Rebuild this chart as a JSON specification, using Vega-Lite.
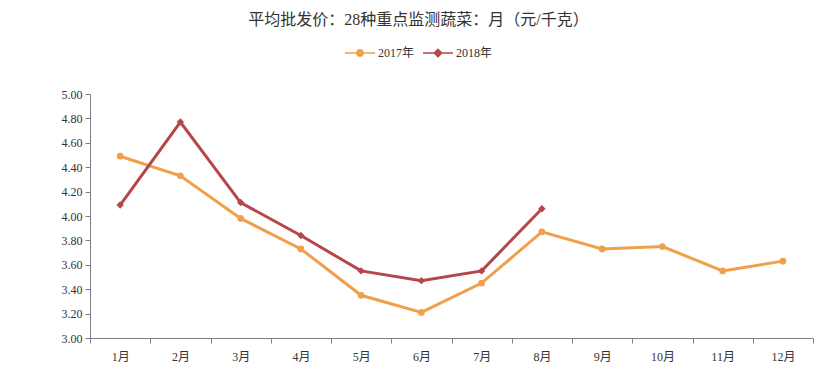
{
  "$schema": "https://vega.github.io/schema/vega-lite/v6.json",
  "width": 723,
  "height": 244,
  "autosize": "none",
  "padding": {"left": 90, "top": 94, "right": 27, "bottom": 50},
  "background": "white",
  "title": {
    "text": "平均批发价：28种重点监测蔬菜：月（元/千克）",
    "anchor": "middle",
    "frame": "group",
    "offset": 10,
    "dx": -33,
    "fontSize": 16,
    "font": "Liberation Serif, Noto Sans CJK SC",
    "fontWeight": "normal",
    "color": "#333333"
  },
  "config": {
    "view": {"stroke": null},
    "font": "Liberation Serif, Noto Sans CJK SC"
  },
  "data": {
    "values": [
      {"month": "1月", "year": "2017年", "price": 4.49},
      {"month": "2月", "year": "2017年", "price": 4.33},
      {"month": "3月", "year": "2017年", "price": 3.98},
      {"month": "4月", "year": "2017年", "price": 3.73},
      {"month": "5月", "year": "2017年", "price": 3.35},
      {"month": "6月", "year": "2017年", "price": 3.21},
      {"month": "7月", "year": "2017年", "price": 3.45},
      {"month": "8月", "year": "2017年", "price": 3.87},
      {"month": "9月", "year": "2017年", "price": 3.73},
      {"month": "10月", "year": "2017年", "price": 3.75},
      {"month": "11月", "year": "2017年", "price": 3.55},
      {"month": "12月", "year": "2017年", "price": 3.63},
      {"month": "1月", "year": "2018年", "price": 4.09},
      {"month": "2月", "year": "2018年", "price": 4.77},
      {"month": "3月", "year": "2018年", "price": 4.11},
      {"month": "4月", "year": "2018年", "price": 3.84},
      {"month": "5月", "year": "2018年", "price": 3.55},
      {"month": "6月", "year": "2018年", "price": 3.47},
      {"month": "7月", "year": "2018年", "price": 3.55},
      {"month": "8月", "year": "2018年", "price": 4.06}
    ]
  },
  "encoding": {
    "x": {
      "field": "month",
      "type": "ordinal",
      "sort": ["1月","2月","3月","4月","5月","6月","7月","8月","9月","10月","11月","12月"],
      "scale": {"type": "band", "paddingInner": 0, "paddingOuter": 0},
      "axis": {
        "title": null,
        "labelAngle": 0,
        "tickBand": "extent",
        "domainColor": "#808080",
        "tickColor": "#808080",
        "tickSize": 5,
        "labelPadding": 8,
        "labelFontSize": 12,
        "labelColor": "#333333",
        "grid": false
      }
    },
    "y": {
      "field": "price",
      "type": "quantitative",
      "scale": {"domain": [3, 5], "zero": false, "nice": false},
      "axis": {
        "title": null,
        "values": [3.0, 3.2, 3.4, 3.6, 3.8, 4.0, 4.2, 4.4, 4.6, 4.8, 5.0],
        "format": ".2f",
        "grid": false,
        "domainColor": "#808080",
        "tickColor": "#808080",
        "tickSize": 5,
        "labelPadding": 3,
        "labelFontSize": 12,
        "labelColor": "#333333"
      }
    }
  },
  "layer": [
    {
      "mark": {"type": "line", "strokeWidth": 3},
      "encoding": {
        "color": {
          "field": "year",
          "type": "nominal",
          "scale": {"domain": ["2017年", "2018年"], "range": ["#F0A04B", "#B5474B"]},
          "legend": {
            "title": null,
            "orient": "none",
            "legendX": 255,
            "legendY": -56,
            "direction": "horizontal",
            "symbolSize": 900,
            "symbolType": "M-1,-0.055L1,-0.055L1,0.055L-1,0.055Z M-0.27,0A0.27,0.27 0 1,1 0.27,0A0.27,0.27 0 1,1 -0.27,0Z",
            "labelFontSize": 12,
            "labelColor": "#333333",
            "labelOffset": 3,
            "columnPadding": 8,
            "encode": {
              "symbols": {
                "update": {
                  "shape": {"signal": "datum.value === '2017年' ? 'M-1,-0.055L1,-0.055L1,0.055L-1,0.055Z M-0.27,0A0.27,0.27 0 1,1 0.27,0A0.27,0.27 0 1,1 -0.27,0Z' : 'M-1,-0.055L1,-0.055L1,0.055L-1,0.055Z M0,-0.32L0.32,0L0,0.32L-0.32,0Z'"},
                  "fill": {"scale": "color", "field": "value"},
                  "stroke": {"value": "transparent"},
                  "strokeWidth": {"value": 0},
                  "opacity": {"value": 1},
                  "fillOpacity": {"value": 1}
                }
              }
            }
          }
        }
      }
    },
    {
      "transform": [{"filter": "datum.year === '2017年'"}],
      "mark": {"type": "point", "filled": true, "size": 45, "opacity": 1, "shape": "circle", "color": "#F0A04B"}
    },
    {
      "transform": [{"filter": "datum.year === '2018年'"}],
      "mark": {"type": "point", "filled": true, "size": 55, "opacity": 1, "shape": "diamond", "color": "#B5474B"}
    }
  ]
}
